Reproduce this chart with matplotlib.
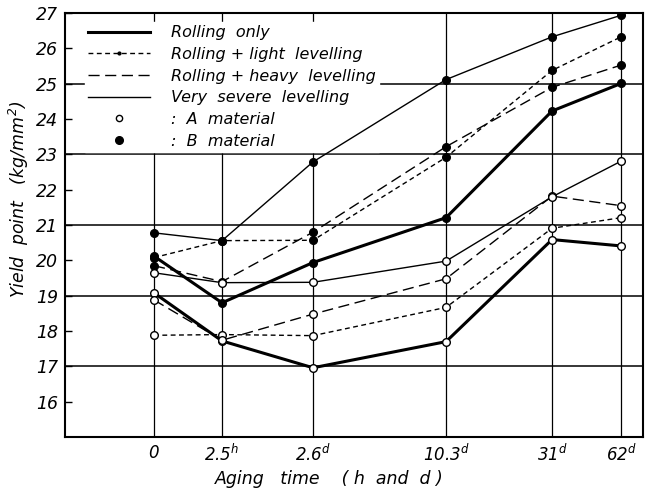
import matplotlib.pyplot as plt
from matplotlib.lines import Line2D

plt.rcParams['font.family'] = ['DejaVu Sans']
plt.rcParams['mathtext.fontset'] = 'custom'
plt.rcParams['mathtext.it'] = 'DejaVu Sans:italic'
plt.rcParams['mathtext.rm'] = 'DejaVu Sans:italic'
plt.rcParams['mathtext.default'] = 'it'

# aging time categories and where the original puts them along the axis
x_labels = [r'$\mathit{0}$', r'$\mathit{2.5}^{h}$', r'$\mathit{2.6}^{d}$',
            r'$\mathit{10.3}^{d}$', r'$\mathit{31}^{d}$', r'$\mathit{62}^{d}$']
x_pos = [0, 68, 159, 292, 398, 467]

# yield point (kg/mm2), A = open circles, B = filled circles
rolling_A = [19.08, 17.72, 16.96, 17.70, 20.59, 20.41]
rolling_B = [20.12, 18.80, 19.94, 21.21, 24.23, 25.01]
light_A = [17.88, 17.90, 17.87, 18.67, 20.91, 21.21]
light_B = [20.08, 20.56, 20.57, 22.92, 25.38, 26.33]
heavy_A = [18.88, 17.74, 18.48, 19.48, 21.82, 21.55]
heavy_B = [19.85, 19.40, 20.80, 23.22, 24.90, 25.53]
severe_A = [19.65, 19.37, 19.38, 19.98, 21.80, 22.81]
severe_B = [20.78, 20.56, 22.79, 25.12, 26.33, 26.94]

labels = ['Rolling  only', 'Rolling + light  levelling',
          'Rolling + heavy  levelling', 'Very  severe  levelling']

fig = plt.figure(figsize=(6.45, 4.88), dpi=100)
ax = fig.add_axes([0.1008, 0.1045, 0.8962, 0.8685])

# line styles: rolling thick solid, light short dash, heavy long dash, severe thin solid
styles = [
    dict(lw=2.2, ls='-'),
    dict(lw=1.0, ls=(0, (3.5, 2.5))),
    dict(lw=1.0, ls=(0, (8, 4))),
    dict(lw=1.0, ls='-'),
]
series = [(rolling_A, rolling_B), (light_A, light_B),
          (heavy_A, heavy_B), (severe_A, severe_B)]

for st, (ya, yb) in zip(styles, series):
    ax.plot(x_pos, ya, color='black', marker='o', ms=5.5, mfc='white',
            mec='black', mew=1.0, zorder=3, **st)
    ax.plot(x_pos, yb, color='black', marker='o', ms=5.5, mfc='black',
            mec='black', zorder=3, **st)

# grid: horizontal at odd values, vertical at each aging time
for yv in [17, 19, 21, 23, 25]:
    ax.axhline(yv, color='black', lw=1.1, zorder=1)
for xv in x_pos:
    ax.axvline(xv, color='black', lw=0.9, zorder=1)

ax.set_xlim(-89, 489)
ax.set_ylim(15, 27)
ax.set_yticks(range(16, 28))
ax.set_yticklabels([str(v) for v in range(16, 28)], fontsize=12.5, style='italic')
ax.set_xticks(x_pos)
ax.set_xticklabels(x_labels, fontsize=12)
ax.tick_params(axis='x', length=0, pad=5)
ax.tick_params(axis='y', direction='in', length=5, width=1.0, pad=5)
for sp in ax.spines.values():
    sp.set_linewidth(1.5)

ax.set_ylabel('Yield  point   $(kg/mm^{2})$', fontsize=12.5, style='italic')
ax.yaxis.set_label_coords(-0.058, 0.56)
fig.text(0.51, 0.0, 'Aging   time    ( h  and  d )', fontsize=12.5,
         style='italic', ha='center', va='bottom')

handles = [
    Line2D([], [], color='black', **styles[0]),
    Line2D([], [], color='black', marker='.', ms=4, **styles[1]),
    Line2D([], [], color='black', **styles[2]),
    Line2D([], [], color='black', **styles[3]),
    Line2D([], [], ls='none', marker='o', ms=4.5, mfc='white', mec='black'),
    Line2D([], [], ls='none', marker='o', ms=5.5, mfc='black', mec='black'),
]
leg_labels = labels + [':  A  material', ':  B  material']
leg = ax.legend(handles, leg_labels, loc='upper left',
                bbox_to_anchor=(0.02, 0.998), frameon=True, framealpha=1,
                edgecolor='white', facecolor='white', fancybox=False,
                handlelength=3.9, handletextpad=1.3, labelspacing=0.42,
                borderpad=0.2, prop=dict(size=11.5, style='italic'))
leg.set_zorder(2)

fig.savefig('out.png', dpi=100)
